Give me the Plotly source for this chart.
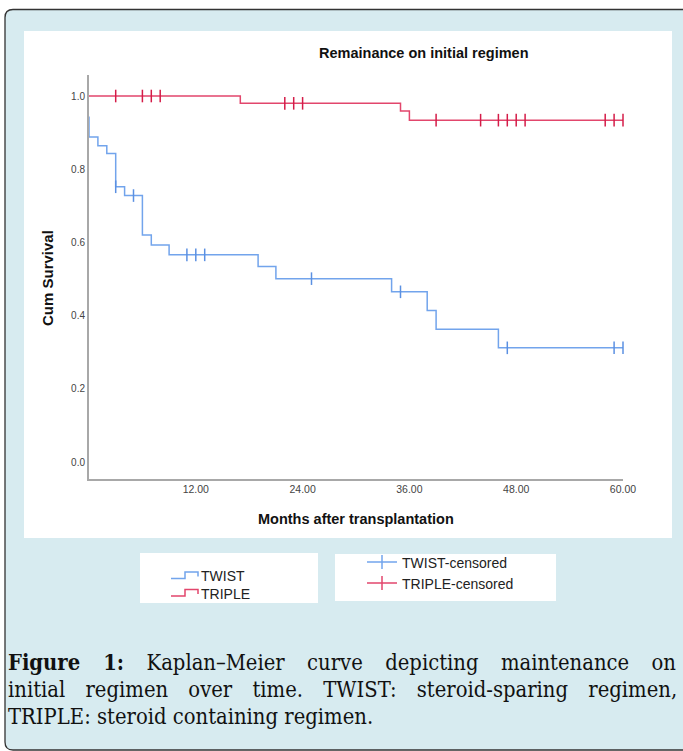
import plotly.graph_objects as go

W, H = 683, 751

# ---------------- data ----------------
twist_time = [0, 0, 1, 2, 3, 4, 6, 7, 9, 19, 21, 34, 38, 39, 46, 60]
twist_surv = [0.944, 0.888, 0.864, 0.843, 0.752, 0.728, 0.620, 0.593, 0.566,
              0.534, 0.501, 0.465, 0.414, 0.363, 0.312, 0.312]
twist_cens_time = [3, 5, 11, 12, 13, 25, 35, 47, 59, 60]

triple_time = [0, 17, 35, 36, 60]
triple_surv = [1.0, 0.980, 0.959, 0.934, 0.934]
triple_cens_time = [3, 6, 7, 8, 22, 23, 24, 39, 44, 46, 47, 48, 49, 58, 59, 60]

x_ticks = [12, 24, 36, 48, 60]
x_tick_labels = ["12.00", "24.00", "36.00", "48.00", "60.00"]
y_ticks = [0.0, 0.2, 0.4, 0.6, 0.8, 1.0]
y_tick_labels = ["0.0", "0.2", "0.4", "0.6", "0.8", "1.0"]

series_names = ["TWIST", "TRIPLE"]
censor_names = ["TWIST-censored", "TRIPLE-censored"]

title_text = "Remainance on initial regimen"
x_title = "Months after transplantation"
y_title = "Cum Survival"
caption_lines = [
    "<b>Figure 1:</b> Kaplan–Meier curve depicting maintenance on",
    "initial regimen over time. TWIST: steroid-sparing regimen,",
    "TRIPLE: steroid containing regimen.",
]
caption_word_spacing = [16.2, 14.0, 0]

BLUE = "#72a4ec"
BLUE_C = "#5b90e2"
RED = "#e2466c"
RED_C = "#d41c48"


def step_value(times, surv, t):
    val = surv[0]
    for ti, si in zip(times, surv):
        if ti <= t:
            val = si
    return val


twist_cens_surv = [step_value(twist_time, twist_surv, t) for t in twist_cens_time]
triple_cens_surv = [step_value(triple_time, triple_surv, t) for t in triple_cens_time]


def px(x):
    return x / W


def py(y):
    return 1 - y / H


fig = go.Figure()
fig.add_trace(go.Scatter(x=twist_time, y=twist_surv, mode="lines",
                         line=dict(shape="hv", color=BLUE, width=1.5),
                         name=series_names[0], showlegend=False))
fig.add_trace(go.Scatter(x=triple_time, y=triple_surv, mode="lines",
                         line=dict(shape="hv", color=RED, width=1.5),
                         name=series_names[1], showlegend=False))
fig.add_trace(go.Scatter(x=twist_cens_time, y=twist_cens_surv, mode="markers",
                         marker=dict(symbol="line-ns-open", size=9, color=BLUE_C,
                                     line=dict(color=BLUE_C, width=1.5)),
                         name=censor_names[0], showlegend=False, cliponaxis=False))
fig.add_trace(go.Scatter(x=triple_cens_time, y=triple_cens_surv, mode="markers",
                         marker=dict(symbol="line-ns-open", size=9, color=RED_C,
                                     line=dict(color=RED_C, width=1.5)),
                         name=censor_names[1], showlegend=False, cliponaxis=False))

shapes = []
# light blue framed background with rounded left corners
bg_path = (f"M {px(683)},{py(9.5)} L {px(13)},{py(9.5)} "
           f"Q {px(5)},{py(9.5)} {px(5)},{py(17.5)} "
           f"L {px(5)},{py(742)} Q {px(5)},{py(750)} {px(13)},{py(750)} "
           f"L {px(683)},{py(750)}")
shapes.append(dict(type="path", xref="paper", yref="paper", path=bg_path,
                   fillcolor="#d7ebf0", line=dict(color="#333333", width=1.3),
                   layer="below"))
# white chart panel
shapes.append(dict(type="rect", xref="paper", yref="paper",
                   x0=px(24), x1=px(672), y0=py(538), y1=py(31),
                   fillcolor="white", line=dict(width=0), layer="below"))
# legend boxes
shapes.append(dict(type="rect", xref="paper", yref="paper",
                   x0=px(140), x1=px(318), y0=py(603), y1=py(553),
                   fillcolor="white", line=dict(width=0), layer="below"))
shapes.append(dict(type="rect", xref="paper", yref="paper",
                   x0=px(335), x1=px(556), y0=py(601), y1=py(554),
                   fillcolor="white", line=dict(width=0), layer="below"))


def step_icon(y_low, y_high, color):
    p = (f"M {px(171)},{py(y_low)} L {px(185)},{py(y_low)} L {px(185)},{py(y_high)} "
         f"L {px(198)},{py(y_high)} L {px(198)},{py(y_low - 2)}")
    return dict(type="path", xref="paper", yref="paper", path=p,
                line=dict(color=color, width=1.5), layer="above")


shapes.append(step_icon(578.5, 572, BLUE))
shapes.append(step_icon(596, 589.5, RED))


def cross_icon(yc, color):
    return [
        dict(type="line", xref="paper", yref="paper", x0=px(367), x1=px(397),
             y0=py(yc), y1=py(yc), line=dict(color=color, width=1.5)),
        dict(type="line", xref="paper", yref="paper", x0=px(382), x1=px(382),
             y0=py(yc - 7), y1=py(yc + 7), line=dict(color=color, width=1.5)),
    ]


shapes += cross_icon(562, BLUE)
shapes += cross_icon(583, RED)

annotations = []
SANS = "Liberation Sans, Arial, sans-serif"
annotations.append(dict(text=f"<b>{title_text}</b>", x=px(424), y=py(53),
                        xref="paper", yref="paper", showarrow=False,
                        xanchor="center", yanchor="middle",
                        font=dict(family=SANS, size=14.5, color="#111111")))
annotations.append(dict(text=f"<b>{x_title}</b>", x=px(356), y=py(519),
                        xref="paper", yref="paper", showarrow=False,
                        xanchor="center", yanchor="middle",
                        font=dict(family=SANS, size=14.5, color="#111111")))
annotations.append(dict(text=f"<b>{y_title}</b>", x=px(47), y=py(278),
                        xref="paper", yref="paper", showarrow=False, textangle=-90,
                        xanchor="center", yanchor="middle",
                        font=dict(family=SANS, size=15, color="#111111")))
# legend texts
for txt, xx, yy in [(series_names[0], 199, 576), (series_names[1], 199, 593.5),
                    (censor_names[0], 400, 563), (censor_names[1], 400, 584)]:
    annotations.append(dict(text=txt, x=px(xx), y=py(yy), xref="paper", yref="paper",
                            showarrow=False, xanchor="left", yanchor="middle",
                            font=dict(family=SANS, size=14, color="#222222")))
# caption (justified lines via word spacing)
SERIF = "DejaVu Serif Condensed, DejaVu Serif, serif"
for i, (line, ws) in enumerate(zip(caption_lines, caption_word_spacing)):
    txt = f'<span style="word-spacing:{ws}px">{line}</span>' if ws else line
    annotations.append(dict(text=txt, x=px(6), y=py(662 + 27 * i), xref="paper",
                            yref="paper", showarrow=False, xanchor="left",
                            yanchor="middle",
                            font=dict(family=SERIF, size=21.8, color="#111111")))

fig.update_layout(
    width=W, height=H, autosize=False,
    margin=dict(l=0, r=0, t=0, b=0, autoexpand=False),
    paper_bgcolor="white", plot_bgcolor="rgba(0,0,0,0)",
    shapes=shapes, annotations=annotations, showlegend=False,
    xaxis=dict(domain=[px(89), px(623)], range=[0, 60], tickvals=x_ticks,
               ticktext=x_tick_labels, showgrid=False, zeroline=False,
               showline=True, linecolor="#a8a8a8", linewidth=1.5, ticks="",
               automargin=False,
               tickfont=dict(family=SANS, size=10.5, color="#444444")),
    yaxis=dict(domain=[py(479), py(75)], range=[-0.0464, 1.0574], tickvals=y_ticks,
               ticktext=y_tick_labels, showgrid=False, zeroline=False,
               showline=True, linecolor="#a8a8a8", linewidth=2, ticks="",
               automargin=False,
               tickfont=dict(family=SANS, size=10, color="#444444")),
)

fig.write_html("out.html",
               config={"responsive": False, "displayModeBar": False},
               default_width="683px", default_height="751px",
               post_script=("document.body.style.margin='0';"
                            "document.body.style.padding='0';"
                            "document.body.style.overflow='hidden';"))
